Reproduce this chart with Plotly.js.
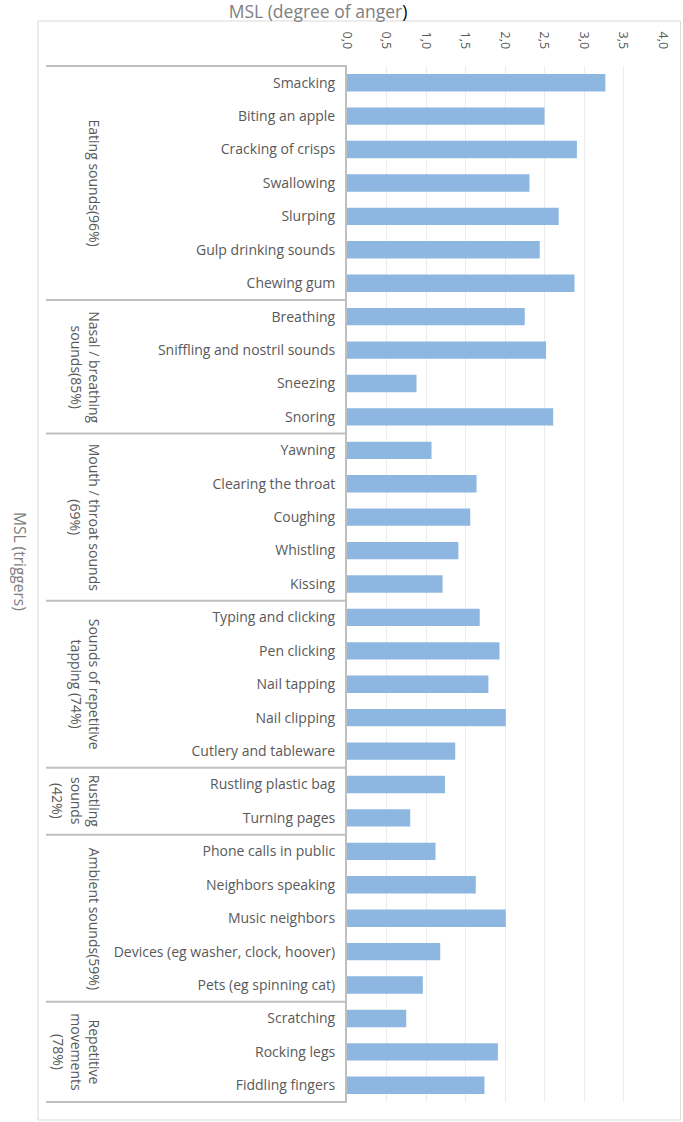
<!DOCTYPE html>
<html>
<head>
<meta charset="utf-8">
<script src="https://cdn.plot.ly/plotly-3.0.1.min.js"></script>
<style>html,body{margin:0;padding:0;background:#fff;}#chart{width:683px;height:1122px;}</style>
</head>
<body>
<div id="chart"></div>
<script>
const categories = [
  "Smacking", "Biting an apple", "Cracking of crisps", "Swallowing", "Slurping", "Gulp drinking sounds", "Chewing gum",
  "Breathing", "Sniffling and nostril sounds", "Sneezing", "Snoring",
  "Yawning", "Clearing the throat", "Coughing", "Whistling", "Kissing",
  "Typing and clicking", "Pen clicking", "Nail tapping", "Nail clipping", "Cutlery and tableware",
  "Rustling plastic bag", "Turning pages",
  "Phone calls in public", "Neighbors speaking", "Music neighbors", "Devices (eg washer, clock, hoover)", "Pets (eg spinning cat)",
  "Scratching", "Rocking legs", "Fiddling fingers"
];
const values = [
  3.27, 2.50, 2.91, 2.31, 2.68, 2.44, 2.88,
  2.25, 2.52, 0.88, 2.61,
  1.07, 1.64, 1.56, 1.41, 1.21,
  1.68, 1.93, 1.79, 2.01, 1.37,
  1.24, 0.80,
  1.12, 1.63, 2.01, 1.18, 0.96,
  0.75, 1.91, 1.74
];
const groupLabels = [
  "Eating sounds(96%)",
  "Nasal / breathing<br>sounds(85%)",
  "Mouth / throat sounds<br>(69%)",
  "Sounds of repetitive<br>tapping (74%)",
  "Rustling<br>sounds<br>(42%)",
  "Ambient sounds(59%)",
  "Repetitive<br>movements<br>(78%)"
];
const groupSizes = [7, 4, 5, 5, 2, 5, 3];
const xTicks = [0, 0.5, 1, 1.5, 2, 2.5, 3, 3.5, 4];
const xTickText = ["0,0", "0,5", "1,0", "1,5", "2,0", "2,5", "3,0", "3,5", "4,0"];

const FONT = "'Open Sans', Lato, sans-serif";
const TXT = "#595959";
const LINE = "#bfbfbf";

// geometry (pixels)
const W = 683, H = 1122;
const mL = 347, mR = 20, mT = 66, mB = 20;
const pw = W - mL - mR, ph = H - mT - mB;
const px = v => (v - mL) / pw;          // pixel x -> paper x
const py = v => (H - mB - v) / ph;      // pixel y -> paper y

const shapes = [];
const annotations = [];

// outer frame
shapes.push({type: 'rect', xref: 'paper', yref: 'paper',
  x0: px(38), x1: px(680.5), y0: py(1120), y1: py(21),
  line: {color: '#d9d9d9', width: 1}, layer: 'below'});

// group separators & labels
let start = 0;
shapes.push({type: 'line', xref: 'paper', yref: 'paper', x0: px(46), x1: 0, y0: 1, y1: 1,
  line: {color: LINE, width: 2}});
groupSizes.forEach((n, i) => {
  const end = start + n - 1;
  const b = end + 0.5;
  if (i < groupSizes.length - 1) {
    shapes.push({type: 'line', xref: 'paper', yref: 'y', x0: px(46), x1: 0, y0: b, y1: b,
      line: {color: LINE, width: 2}});
  }
  annotations.push({xref: 'paper', yref: 'y', x: px(106), y: (start + end) / 2,
    xanchor: 'right', yanchor: 'middle', text: groupLabels[i], showarrow: false,
    textangle: 90, align: 'center', font: {family: FONT, size: 14, color: TXT}});
  start += n;
});
shapes.push({type: 'line', xref: 'paper', yref: 'paper', x0: px(46), x1: 0, y0: 0, y1: 0,
  line: {color: LINE, width: 2}});

// y axis title (rotated clockwise)
annotations.push({xref: 'paper', yref: 'paper', x: px(20), y: py(561),
  xanchor: 'center', yanchor: 'middle', text: 'MSL (triggers)', showarrow: false,
  textangle: 90, font: {family: FONT, size: 15.5, color: '#808080'}});

const trace = {
  type: 'bar', orientation: 'h',
  x: values, y: categories,
  marker: {color: '#8db7e1'},
  hoverinfo: 'x+y'
};

const layout = {
  width: W, height: H,
  margin: {l: mL, r: mR, t: mT, b: mB, pad: 0},
  paper_bgcolor: '#fff', plot_bgcolor: '#fff',
  showlegend: false,
  bargap: 0.48,
  font: {family: FONT, color: TXT},
  title: {
    text: 'MSL (degree of anger<span style="color:#000">)</span>',
    xref: 'container', yref: 'container',
    x: 318 / W, y: 1 - 12 / H, xanchor: 'center', yanchor: 'middle',
    font: {family: FONT, size: 17.5, color: '#808080'}
  },
  xaxis: {
    side: 'top', range: [0, 4], tickvals: xTicks, ticktext: xTickText,
    tickangle: 90, ticks: '', ticklabelstandoff: 14,
    showgrid: true, gridcolor: '#ececec', gridwidth: 1,
    zeroline: false, showline: false,
    tickfont: {family: FONT, size: 12.5, color: TXT}
  },
  yaxis: {
    type: 'category', autorange: 'reversed',
    ticks: '', ticklabelstandoff: 7,
    showline: true, linecolor: LINE, linewidth: 2,
    showgrid: false, zeroline: false,
    tickfont: {family: FONT, size: 14, color: TXT}
  },
  shapes: shapes,
  annotations: annotations
};

Plotly.newPlot('chart', [trace], layout, {displayModeBar: false, staticPlot: true});
</script>
</body>
</html>
